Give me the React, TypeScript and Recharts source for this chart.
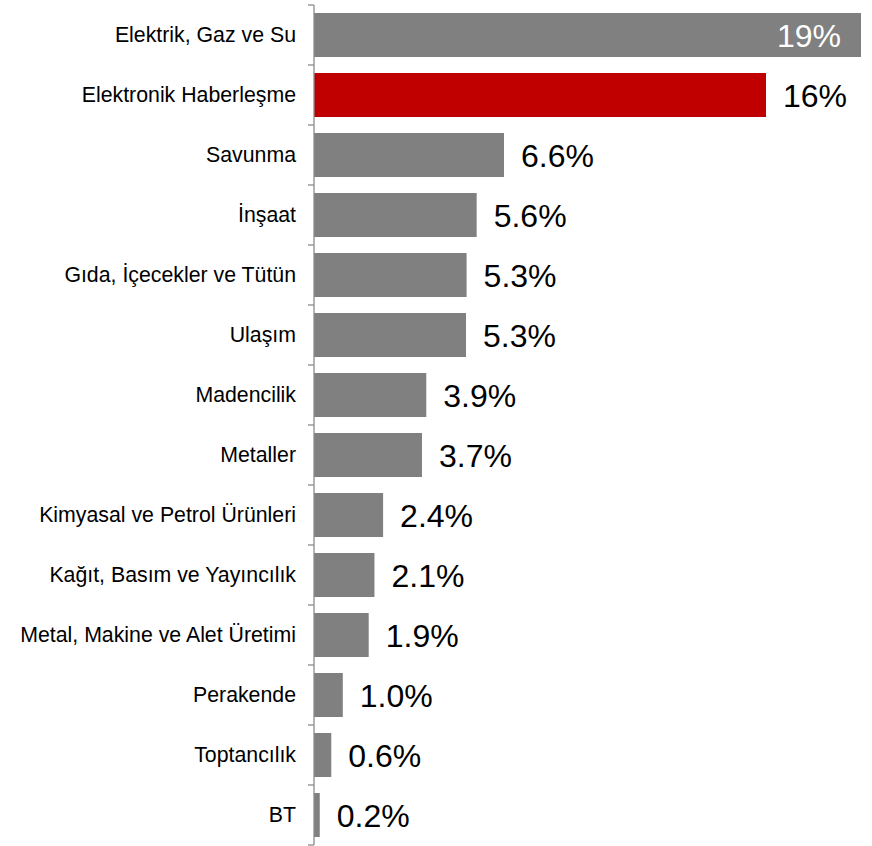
import { BarChart, Bar, XAxis, YAxis, LabelList } from 'recharts';

const categories = [
  'Elektrik, Gaz ve Su',
  'Elektronik Haberleşme',
  'Savunma',
  'İnşaat',
  'Gıda, İçecekler ve Tütün',
  'Ulaşım',
  'Madencilik',
  'Metaller',
  'Kimyasal ve Petrol Ürünleri',
  'Kağıt, Basım ve Yayıncılık',
  'Metal, Makine ve Alet Üretimi',
  'Perakende',
  'Toptancılık',
  'BT',
];
const values = [19.0, 15.7, 6.6, 5.65, 5.3, 5.28, 3.9, 3.75, 2.4, 2.1, 1.9, 1.0, 0.6, 0.2];
const valueLabels = ['19%', '16%', '6.6%', '5.6%', '5.3%', '5.3%', '3.9%', '3.7%', '2.4%', '2.1%', '1.9%', '1.0%', '0.6%', '0.2%'];
const highlighted = 'Elektronik Haberleşme';

const data = categories.map((name, i) => ({ name, value: values[i], label: valueLabels[i] }));

const WIDTH = 872;
const HEIGHT = 846;
const AXIS_W = 314;
const MARGIN = { top: 5, right: 11, bottom: 1, left: 0 };
const BAND = (HEIGHT - MARGIN.top - MARGIN.bottom) / categories.length;
const FONT = '"Liberation Sans", Arial, sans-serif';
const GRAY = '#808080';
const RED = '#C00000';
const AXIS_COLOR = '#8c8c8c';

function CategoryTick(props: any) {
  const { y, payload, index } = props;
  const last = index === categories.length - 1;
  return (
    <g>
      <line x1={AXIS_W - 6} x2={AXIS_W} y1={y - BAND / 2} y2={y - BAND / 2} stroke={AXIS_COLOR} strokeWidth={1.3} />
      {last && (
        <line x1={AXIS_W - 6} x2={AXIS_W} y1={y + BAND / 2} y2={y + BAND / 2} stroke={AXIS_COLOR} strokeWidth={1.3} />
      )}
      <text x={AXIS_W - 18} y={y} dy={7} textAnchor="end" fontSize={21.3} fontFamily={FONT} fill="#000">
        {payload.value}
      </text>
    </g>
  );
}

function ValueLabel(props: any) {
  const { x, y, width, height, index } = props;
  const inside = index === 0;
  const text = valueLabels[index];
  const cy = y + height / 2 + 11.5;
  if (inside) {
    return (
      <text x={x + width - 20} y={cy} textAnchor="end" fontSize={32} fontFamily={FONT} fill="#fff">
        {text}
      </text>
    );
  }
  return (
    <text x={x + width + 17} y={cy} textAnchor="start" fontSize={32} fontFamily={FONT} fill="#000">
      {text}
    </text>
  );
}

export default function App() {
  return (
    <div style={{ position: 'absolute', left: 0, top: 0, width: WIDTH, height: HEIGHT, background: '#fff' }}>
      <BarChart width={WIDTH} height={HEIGHT} data={data} layout="vertical" margin={MARGIN}>
        <XAxis type="number" domain={[0, 19]} hide />
        <YAxis
          type="category"
          dataKey="name"
          width={AXIS_W}
          tick={<CategoryTick />}
          tickLine={false}
          axisLine={{ stroke: AXIS_COLOR, strokeWidth: 1.3 }}
          interval={0}
        />
        <Bar dataKey="value" barSize={44} isAnimationActive={false}
          shape={(p: any) => (
            <rect x={p.x} y={p.y} width={p.width} height={p.height}
              fill={p.payload.name === highlighted ? RED : GRAY} />
          )}
        >
          <LabelList dataKey="label" content={<ValueLabel />} />
        </Bar>
      </BarChart>
    </div>
  );
}
